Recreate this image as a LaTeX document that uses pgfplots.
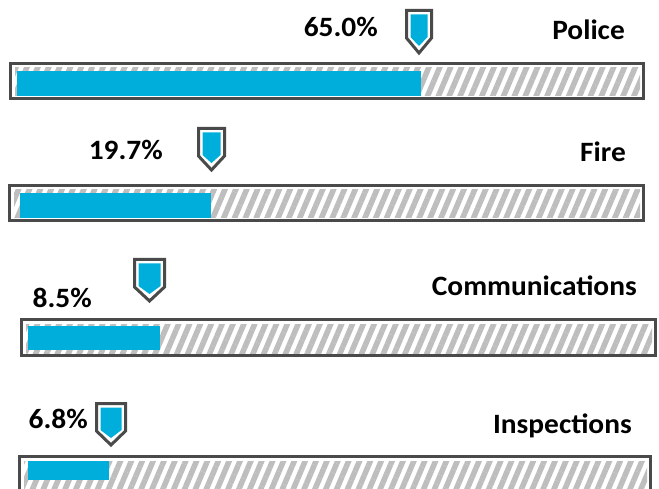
\documentclass[border=0pt]{standalone}
\usepackage{pgfplots}
\pgfplotsset{compat=1.18}
\usetikzlibrary{patterns.meta}
\usepackage{graphicx}
\usepackage{fontspec}
\setmainfont{Carlito}
\definecolor{barblue}{RGB}{0,174,219}
\definecolor{frame}{RGB}{74,74,74}
\definecolor{hatch}{RGB}{190,190,190}
\tikzset{lbl/.style={font=\fontsize{28}{32}\selectfont\bfseries, inner sep=0pt, anchor=base east}}
\newcommand{\txt}[1]{\scalebox{1.05}[1]{#1}}
\newcommand{\progbar}[8]{%
  \addplot[draw=frame, line width=3pt, fill=white] coordinates {(#1+1.5,#3+1.5) (#2-1.5,#3+1.5) (#2-1.5,#4-1.5) (#1+1.5,#4-1.5)} -- cycle;
  \addplot[draw=none, pattern={Lines[angle=67,distance=10pt,line width=5.5pt]}, pattern color=hatch] coordinates {(#1+6,#3+6) (#2-5,#3+6) (#2-5,#4-4) (#1+6,#4-4)} -- cycle;
  \addplot[draw=none, fill=barblue] coordinates {(#5,#7) (#6,#7) (#6,#8) (#5,#8)} -- cycle;
}
\newcommand{\shield}[5]{%
  \addplot[draw=frame, line width=3pt, fill=white, line join=miter] coordinates {(#1+1.5,#3+1.5) (#2-1.5,#3+1.5) (#2-1.5,#4) ({(#1+#2)/2},#5-2) (#1+1.5,#4)} -- cycle;
  \addplot[draw=none, fill=barblue] coordinates {(#1+5.5,#3+5.5) (#2-5.5,#3+5.5) (#2-5.5,#4-1) ({(#1+#2)/2},#5-9) (#1+5.5,#4-1)} -- cycle;
}
\begin{document}
\begin{tikzpicture}
\begin{axis}[
  scale only axis, width=659pt, height=489pt,
  xmin=0, xmax=659, ymin=0, ymax=489, y dir=reverse,
  hide axis, clip=true,
]
% Police 65.0%
\progbar{9}{645}{62}{100}{17}{421}{71}{96}
\shield{405}{433}{9}{38}{55}
\node[lbl] at (axis cs:378,37) {\txt{65.0\%}};
\node[lbl] at (axis cs:625,40) {\txt{Police}};
% Fire 19.7%
\progbar{8}{645}{184}{222}{20}{211}{193}{218}
\shield{197}{226}{127}{156}{172}
\node[lbl] at (axis cs:163,160) {\txt{19.7\%}};
\node[lbl] at (axis cs:626,162) {\txt{Fire}};
% Communications 8.5%
\progbar{20}{657}{318}{357}{28}{160}{326}{350}
\shield{133}{166}{258}{287}{303}
\node[lbl] at (axis cs:92,307) {\txt{8.5\%}};
\node[lbl] at (axis cs:637,296) {\txt{Communications}};
% Inspections 6.8%
\progbar{18}{652}{455}{505}{28}{109}{461}{480}
\shield{95}{127}{402}{431}{447}
\node[lbl] at (axis cs:88,428) {\txt{6.8\%}};
\node[lbl] at (axis cs:632,433) {\txt{Inspections}};
\end{axis}
\pgfresetboundingbox
\path[use as bounding box] (current axis.south west) rectangle (current axis.north east);
\end{tikzpicture}
\end{document}
